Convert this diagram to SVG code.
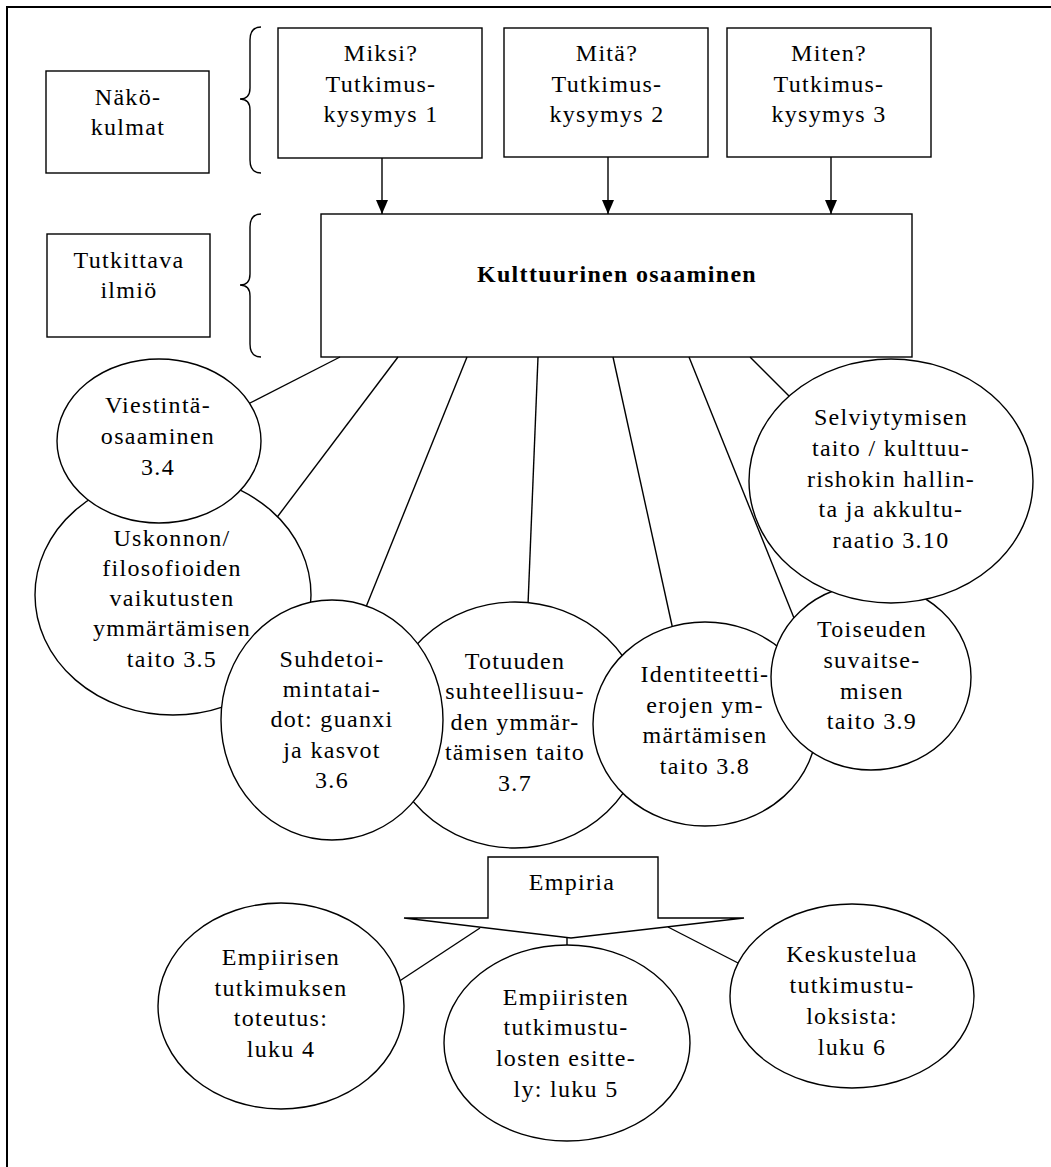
<svg xmlns="http://www.w3.org/2000/svg" width="1051" height="1167" viewBox="0 0 1051 1167">
<style>
  .bg { fill: #ffffff; }
  .box { fill: #ffffff; stroke: #000000; stroke-width: 1.4; }
  .node { fill: #ffffff; stroke: #000000; stroke-width: 1.4; }
  .line { fill: none; stroke: #000000; stroke-width: 1.4; }
  .brace { fill: none; stroke: #000000; stroke-width: 1.4; }
  .frame { fill: none; stroke: #000000; stroke-width: 2; }
  text { font-family: "Liberation Serif", "DejaVu Serif", serif; font-size: 24px; fill: #000000; text-anchor: middle; letter-spacing: 1.3px; }
  .bold { font-weight: bold; }
</style>
<defs>
  <marker id="ah" viewBox="0 0 14 12" refX="14" refY="6" markerWidth="14" markerHeight="12" orient="auto" markerUnits="userSpaceOnUse">
    <path d="M0,0 L14,6 L0,12 z" fill="#000000"/>
  </marker>
</defs>
<rect class="bg" x="0" y="0" width="1051" height="1167"/>
<path class="frame" d="M7,1167 L7,7 L1051,7"/>

<g id="nakokulmat">
  <rect class="box" x="46" y="71" width="163" height="102"/>
  <text x="128" y="105">Näkö-</text>
  <text x="128" y="135">kulmat</text>
</g>
<g id="tutkittava">
  <rect class="box" x="47" y="234" width="163" height="103"/>
  <text x="129" y="268">Tutkittava</text>
  <text x="129" y="298">ilmiö</text>
</g>
<g id="braces">
  <path class="brace" d="M261,27 Q250,27 250,40 L250,88 Q250,99 240,99 Q250,99 250,110 L250,160 Q250,173 261,173"/>
  <path class="brace" d="M261,214 Q250,214 250,227 L250,274 Q250,285 240,285 Q250,285 250,296 L250,344 Q250,357 261,357"/>
</g>
<g id="miksi">
  <rect class="box" x="278" y="28" width="204" height="130"/>
  <text x="381" y="61">Miksi?</text>
  <text x="381" y="92">Tutkimus-</text>
  <text x="381" y="122">kysymys 1</text>
</g>
<g id="mita">
  <rect class="box" x="504" y="28" width="204" height="129"/>
  <text x="607" y="61">Mitä?</text>
  <text x="607" y="92">Tutkimus-</text>
  <text x="607" y="122">kysymys 2</text>
</g>
<g id="miten">
  <rect class="box" x="727" y="28" width="204" height="129"/>
  <text x="829" y="61">Miten?</text>
  <text x="829" y="92">Tutkimus-</text>
  <text x="829" y="122">kysymys 3</text>
</g>
<g id="kulttuurinen">
  <rect class="box" x="321" y="214" width="591" height="143"/>
  <text class="bold" x="617" y="282">Kulttuurinen osaaminen</text>
</g>

<g id="connectors">
  <line class="line" x1="382" y1="158" x2="382" y2="214" marker-end="url(#ah)"/>
  <line class="line" x1="608" y1="157" x2="608" y2="214" marker-end="url(#ah)"/>
  <line class="line" x1="831" y1="157" x2="831" y2="214" marker-end="url(#ah)"/>
  <line class="line" x1="340" y1="357" x2="248" y2="404"/>
  <line class="line" x1="398" y1="357" x2="275" y2="520"/>
  <line class="line" x1="467" y1="357" x2="366" y2="607"/>
  <line class="line" x1="538" y1="357" x2="528" y2="605"/>
  <line class="line" x1="613" y1="357" x2="673" y2="630"/>
  <line class="line" x1="689" y1="357" x2="796" y2="623"/>
  <line class="line" x1="750" y1="357" x2="792" y2="399"/>
  <line class="line" x1="567" y1="938" x2="567" y2="947"/>
  <line class="line" x1="480" y1="928" x2="398" y2="982"/>
  <line class="line" x1="668" y1="927" x2="740" y2="964"/>
</g>

<g id="uskonnon">
  <ellipse class="node" cx="173" cy="595" rx="138" ry="120"/>
  <text x="172" y="546">Uskonnon/</text>
  <text x="172" y="576">filosofioiden</text>
  <text x="172" y="606">vaikutusten</text>
  <text x="172" y="636">ymmärtämisen</text>
  <text x="172" y="667">taito 3.5</text>
</g>
<g id="viestinta">
  <ellipse class="node" cx="159" cy="441" rx="102" ry="82"/>
  <text x="158" y="413">Viestintä-</text>
  <text x="158" y="444">osaaminen</text>
  <text x="158" y="475">3.4</text>
</g>
<g id="totuuden">
  <ellipse class="node" cx="515" cy="725" rx="130" ry="123"/>
  <text x="515" y="669">Totuuden</text>
  <text x="515" y="699">suhteellisuu-</text>
  <text x="515" y="730">den ymmär-</text>
  <text x="515" y="760">tämisen taito</text>
  <text x="515" y="791">3.7</text>
</g>
<g id="suhdetoi">
  <ellipse class="node" cx="332" cy="720" rx="111" ry="120"/>
  <text x="332" y="667">Suhdetoi-</text>
  <text x="332" y="697">mintatai-</text>
  <text x="332" y="727">dot: guanxi</text>
  <text x="332" y="758">ja kasvot</text>
  <text x="332" y="788">3.6</text>
</g>
<g id="identiteetti">
  <ellipse class="node" cx="705" cy="724" rx="112" ry="102"/>
  <text x="705" y="682">Identiteetti-</text>
  <text x="705" y="713">erojen ym-</text>
  <text x="705" y="743">märtämisen</text>
  <text x="705" y="774">taito 3.8</text>
</g>
<g id="toiseuden">
  <ellipse class="node" cx="871" cy="677" rx="100" ry="93"/>
  <text x="872" y="637">Toiseuden</text>
  <text x="872" y="668">suvaitse-</text>
  <text x="872" y="699">misen</text>
  <text x="872" y="729">taito 3.9</text>
</g>
<g id="selviytymisen">
  <ellipse class="node" cx="891" cy="481" rx="142" ry="122"/>
  <text x="891" y="425">Selviytymisen</text>
  <text x="891" y="456">taito / kulttuu-</text>
  <text x="891" y="487">rishokin hallin-</text>
  <text x="891" y="517">ta ja akkultu-</text>
  <text x="891" y="548">raatio 3.10</text>
</g>

<g id="empiria">
  <polygon class="box" points="488,857 658,857 658,918 744,918 571,938 404,918 488,918"/>
  <text x="572" y="890">Empiria</text>
</g>
<g id="empiirisen">
  <ellipse class="node" cx="281" cy="1006" rx="123" ry="103"/>
  <text x="281" y="965">Empiirisen</text>
  <text x="281" y="996">tutkimuksen</text>
  <text x="281" y="1026">toteutus:</text>
  <text x="281" y="1057">luku 4</text>
</g>
<g id="empiiristen">
  <ellipse class="node" cx="567" cy="1043" rx="123" ry="98"/>
  <text x="566" y="1005">Empiiristen</text>
  <text x="566" y="1035">tutkimustu-</text>
  <text x="566" y="1066">losten esitte-</text>
  <text x="566" y="1097">ly: luku 5</text>
</g>
<g id="keskustelua">
  <ellipse class="node" cx="852" cy="996" rx="122" ry="92"/>
  <text x="852" y="962">Keskustelua</text>
  <text x="852" y="993">tutkimustu-</text>
  <text x="852" y="1024">loksista:</text>
  <text x="852" y="1055">luku 6</text>
</g>
</svg>
